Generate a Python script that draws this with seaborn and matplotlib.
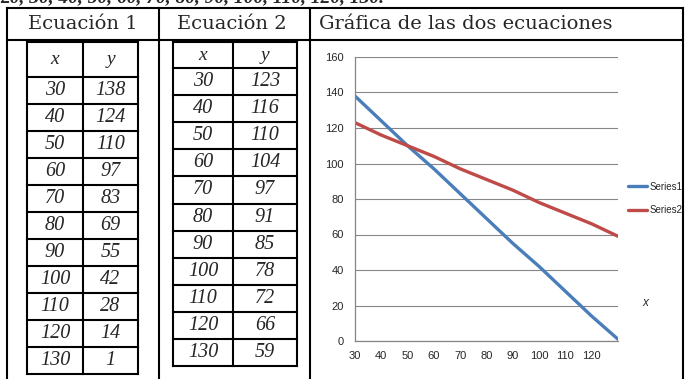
import seaborn as sns
import matplotlib.pyplot as plt
import pandas as pd
from matplotlib.lines import Line2D

# data
x_vals = [30, 40, 50, 60, 70, 80, 90, 100, 110, 120, 130]
y_ec1 = [138, 124, 110, 97, 83, 69, 55, 42, 28, 14, 1]
y_ec2 = [123, 116, 110, 104, 97, 91, 85, 78, 72, 66, 59]
series_names = ['Series1', 'Series2']
headers = ['Ecuación 1', 'Ecuación 2', 'Gráfica de las dos ecuaciones']
y_ticks = [0, 20, 40, 60, 80, 100, 120, 140, 160]
x_tick_labels = ['30', '40', '50', '60', '70', '80', '90', '100', '110', '120', '']

W, H = 689, 379
chart_font = ['Liberation Sans', 'DejaVu Sans']


def fx(x):
    return x / W


def fy(y):
    return 1 - y / H


def hline(fig, y, x0, x1, lw=1.5):
    fig.add_artist(Line2D([fx(x0), fx(x1)], [fy(y), fy(y)], transform=fig.transFigure,
                          color='black', lw=lw, solid_capstyle='projecting', zorder=5))


def vline(fig, x, y0, y1, lw=1.5):
    fig.add_artist(Line2D([fx(x), fx(x)], [fy(y0), fy(y1)], transform=fig.transFigure,
                          color='black', lw=lw, solid_capstyle='projecting', zorder=5))


def draw_table(fig, cols, top, head_bottom, row_h, xs, ys):
    n = len(xs)
    bottom = head_bottom + row_h * n
    for c in cols:
        vline(fig, c, top, bottom)
    hline(fig, top, cols[0], cols[-1])
    for k in range(n + 1):
        hline(fig, head_bottom + row_h * k, cols[0], cols[-1])
    c1 = (cols[0] + cols[1]) / 2
    c2 = (cols[1] + cols[2]) / 2
    hy = (top + head_bottom) / 2
    fig.text(fx(c1), fy(hy), 'x', ha='center', va='center', fontsize=14,
             family='Liberation Serif', style='italic')
    fig.text(fx(c2), fy(hy), 'y', ha='center', va='center', fontsize=14,
             family='Liberation Serif', style='italic')
    for k, (a, b) in enumerate(zip(xs, ys)):
        cy = head_bottom + row_h * (k + 0.5)
        fig.text(fx(c1), fy(cy), str(a), ha='center', va='center', fontsize=14.5,
                 family='Liberation Serif', style='italic')
        fig.text(fx(c2), fy(cy), str(b), ha='center', va='center', fontsize=14.5,
                 family='Liberation Serif', style='italic')


sns.set_style('white')
fig = plt.figure(figsize=(6.89, 3.79), dpi=100)

# partially visible line above the table (cut by the page edge)
fig.text(0.0, fy(2), '20, 30, 40, 50, 60, 70, 80, 90, 100, 110, 120, 130.', ha='left',
         va='baseline', fontsize=14, family='Liberation Serif', style='italic',
         weight='bold')

# outer table
hline(fig, 8, 7, 683)
hline(fig, 40, 7, 683)
for xv in [7, 159, 310, 683]:
    vline(fig, xv, 8, 382)

fig.text(fx(83), fy(24), headers[0], ha='center', va='center', fontsize=14,
         family='DejaVu Serif')
fig.text(fx(232), fy(24), headers[1], ha='center', va='center', fontsize=14,
         family='DejaVu Serif')
fig.text(fx(319), fy(24), headers[2], ha='left', va='center', fontsize=14,
         family='DejaVu Serif')

draw_table(fig, [27, 83, 138], 42, 77, 27.0, x_vals, y_ec1)
draw_table(fig, [173, 233, 297], 42, 68, 27.1, x_vals, y_ec2)

# chart
df = pd.DataFrame({
    'x': x_vals * 2,
    'y': y_ec1 + y_ec2,
    'serie': [series_names[0]] * len(x_vals) + [series_names[1]] * len(x_vals),
})

ax = fig.add_axes([fx(355), fy(341), (618 - 355) / W, (341 - 57) / H])
sns.lineplot(data=df, x='x', y='y', hue='serie', palette=['#4A7EBB', '#BE4B48'],
             linewidth=2.4, ax=ax, legend=True)
ax.set_xlim(30, 130)
ax.set_ylim(0, 160)
ax.set_xticks(x_vals)
ax.set_xticklabels(x_tick_labels)
ax.set_yticks(y_ticks)
ax.set_xlabel('')
ax.set_ylabel('')
for s in ['top', 'right']:
    ax.spines[s].set_visible(False)
for s in ['left', 'bottom']:
    ax.spines[s].set_color('#868686')
    ax.spines[s].set_linewidth(0.9)
ax.grid(axis='y', color='#868686', lw=0.8)
ax.set_axisbelow(True)
ax.tick_params(axis='both', length=4, width=0.8, color='#868686', direction='out',
               labelsize=8, pad=3)
ax.tick_params(axis='y', pad=4)
for lab in ax.get_xticklabels() + ax.get_yticklabels():
    lab.set_family(chart_font)

leg = ax.legend(loc='upper left', bbox_to_anchor=(fx(624), fy(178)),
                bbox_transform=fig.transFigure, frameon=False, handlelength=2.0,
                handletextpad=0.2, labelspacing=1.35, fontsize=7, borderaxespad=0)
for t in leg.get_texts():
    t.set_family(chart_font)

fig.text(fx(645), fy(303), 'x', ha='center', va='center', fontsize=8.5,
         family=chart_font, style='italic')

fig.savefig('out.png', dpi=100)
